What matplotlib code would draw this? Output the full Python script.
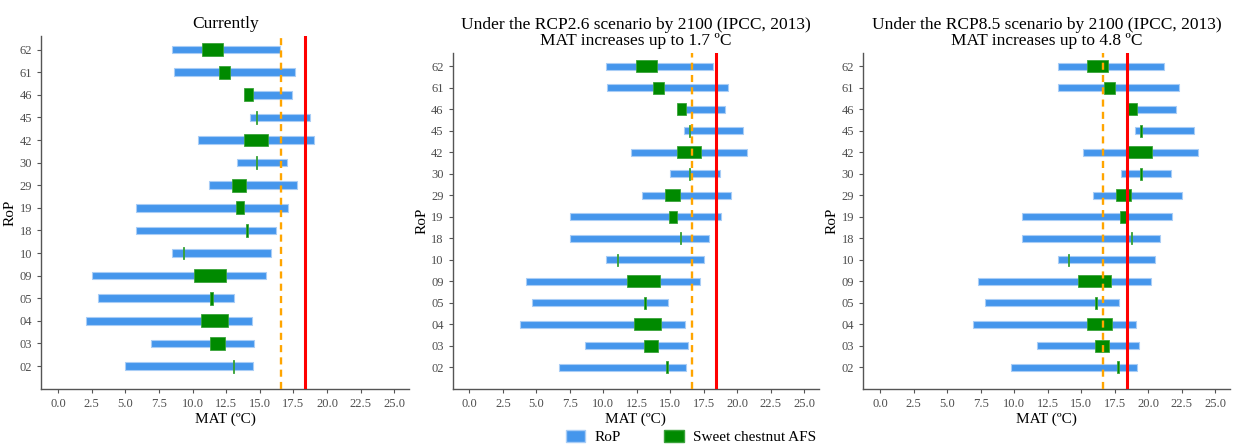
import matplotlib
matplotlib.use("Agg")
from matplotlib import pyplot as plt
from matplotlib.patches import Patch
import numpy as np

plt.rcParams['font.family'] = ['Liberation Serif', 'DejaVu Serif']

# RoP categories, bottom to top
rop = ["02", "03", "04", "05", "09", "10", "18", "19", "29", "30", "42", "45", "46", "61", "62"]

# Currently
cur_rop_lo = [5.0, 6.9, 2.1, 3.0, 2.5, 8.5, 5.8, 5.8, 11.2, 13.3, 10.4, 14.3, 13.9, 8.6, 8.5]
cur_rop_hi = [14.5, 14.6, 14.4, 13.1, 15.5, 15.8, 16.2, 17.1, 17.8, 17.0, 19.0, 18.7, 17.4, 17.6, 16.5]
cur_afs_lo = [13.0, 11.3, 10.6, 11.3, 10.1, 9.3, 14.0, 13.2, 12.9, 14.7, 13.8, 14.7, 13.8, 12.0, 10.7]
cur_afs_hi = [13.1, 12.4, 12.6, 11.5, 12.5, 9.4, 14.1, 13.8, 14.0, 14.8, 15.6, 14.8, 14.5, 12.8, 12.3]

# RCP2.6
r26_rop_lo = [6.7, 8.6, 3.8, 4.7, 4.2, 10.2, 7.5, 7.5, 12.9, 15.0, 12.1, 16.0, 16.1, 10.3, 10.2]
r26_rop_hi = [16.2, 16.3, 16.1, 14.8, 17.2, 17.5, 17.9, 18.8, 19.5, 18.7, 20.7, 20.4, 19.1, 19.3, 18.2]
r26_afs_lo = [14.7, 13.0, 12.3, 13.0, 11.8, 11.0, 15.7, 14.9, 14.6, 16.4, 15.5, 16.4, 15.5, 13.7, 12.4]
r26_afs_hi = [14.8, 14.1, 14.3, 13.2, 14.2, 11.1, 15.8, 15.5, 15.7, 16.5, 17.3, 16.5, 16.2, 14.5, 14.0]

# RCP8.5
r85_rop_lo = [9.8, 11.7, 6.9, 7.8, 7.3, 13.3, 10.6, 10.6, 15.9, 18.0, 15.1, 19.0, 19.1, 13.3, 13.3]
r85_rop_hi = [19.2, 19.3, 19.1, 17.8, 20.2, 20.5, 20.9, 21.8, 22.5, 21.7, 23.7, 23.4, 22.1, 22.3, 21.2]
r85_afs_lo = [17.7, 16.0, 15.4, 16.0, 14.8, 14.0, 18.7, 17.9, 17.6, 19.4, 18.5, 19.4, 18.5, 16.7, 15.4]
r85_afs_hi = [17.8, 17.1, 17.3, 16.2, 17.2, 14.1, 18.8, 18.5, 18.7, 19.5, 20.3, 19.5, 19.2, 17.5, 17.0]

mat_orange = 16.6
mat_red = 18.4

titles = ["Currently",
          "Under the RCP2.6 scenario by 2100 (IPCC, 2013)\nMAT increases up to 1.7 ºC",
          "Under the RCP8.5 scenario by 2100 (IPCC, 2013)\nMAT increases up to 4.8 ºC"]
panels = [(cur_rop_lo, cur_rop_hi, cur_afs_lo, cur_afs_hi),
          (r26_rop_lo, r26_rop_hi, r26_afs_lo, r26_afs_hi),
          (r85_rop_lo, r85_rop_hi, r85_afs_lo, r85_afs_hi)]

W, H = 1240, 447
boxes = [(41.3, 409, 36, 388.7), (452.7, 819, 53.3, 388.7), (863.3, 1230, 53.3, 388.7)]

blue = '#4596ec'
green = '#008a00'
axcol = '#555555'

fig = plt.figure(figsize=(W / 100, H / 100), dpi=100)

for (l, r, t, b), title, (rlo, rhi, alo, ahi) in zip(boxes, titles, panels):
    ax = fig.add_axes([l / W, 1 - b / H, (r - l) / W, (b - t) / H])
    y = np.arange(1, len(rop) + 1)
    rlo, rhi, alo, ahi = map(np.array, (rlo, rhi, alo, ahi))
    ax.barh(y, rhi - rlo, left=rlo, height=0.34, color=blue,
            edgecolor='#a9cdf6', linewidth=0.8, zorder=2)
    ax.barh(y, ahi - alo, left=alo, height=0.57, color=green,
            edgecolor='#3aa33a', linewidth=0.6, zorder=3)
    ax.axvline(mat_orange, color='#ffa500', lw=1.7, ls=(0, (3, 2.2)), zorder=4)
    ax.axvline(mat_red, color='#ff0000', lw=2.2, zorder=4)

    ax.set_xlim(-1.25, 26.1)
    ax.set_ylim(0, 15.6)
    ax.set_yticks(y)
    ax.set_yticklabels(rop)
    ax.set_xticks(np.arange(0, 25.1, 2.5))
    ax.set_xticklabels([f"{v:.1f}" for v in np.arange(0, 25.1, 2.5)])
    ax.tick_params(colors=axcol, labelcolor='#4d4d4d', labelsize=9, length=3, width=0.8)
    for s in ['top', 'right']:
        ax.spines[s].set_visible(False)
    for s in ['left', 'bottom']:
        ax.spines[s].set_color(axcol)
        ax.spines[s].set_linewidth(1.0)
    ax.set_xlabel("MAT (ºC)", fontsize=11, labelpad=2)
    ax.set_ylabel("RoP", fontsize=11, labelpad=2)
    ax.set_title(title, fontsize=12.5, linespacing=1.0, pad=6)

handles = [Patch(facecolor=blue, edgecolor='#a9cdf6', label='RoP'),
           Patch(facecolor=green, edgecolor='#3aa33a', label='Sweet chestnut AFS')]
fig.legend(handles=handles, loc='lower center', bbox_to_anchor=(0.557, -0.025), ncol=2,
           frameon=False, fontsize=11, handlelength=1.3, handleheight=0.8,
           handletextpad=0.6, columnspacing=2.8)

fig.savefig("out.png", dpi=100)
